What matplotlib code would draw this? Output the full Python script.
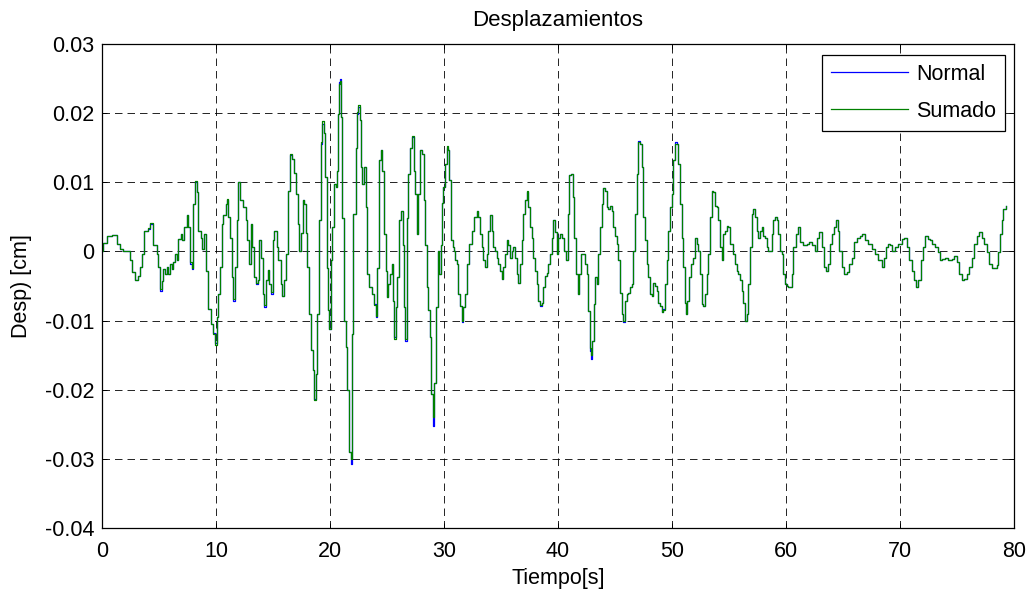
import matplotlib
matplotlib.use("Agg")
import matplotlib.pyplot as plt

plt.rcParams["font.family"] = ["Liberation Sans", "DejaVu Sans"]
plt.rcParams["axes.unicode_minus"] = False

# Time axis [s]
tiempo = [
    0.00, 0.10, 0.41, 0.85, 1.29, 1.58, 1.87, 2.31, 2.46, 2.60, 2.90, 3.19, 3.33, 3.48, 3.71,
    4.06, 4.21, 4.50, 4.80, 4.94, 5.09, 5.23, 5.38, 5.53, 5.67, 5.82, 5.96, 6.11, 6.26, 6.40,
    6.55, 6.70, 6.93, 7.05, 7.22, 7.43, 7.57, 7.72, 7.87, 8.01, 8.16, 8.30, 8.45, 8.68, 8.80,
    8.92, 9.09, 9.33, 9.56, 9.77, 9.91, 10.06, 10.20, 10.35, 10.50, 10.64, 10.88, 11.00, 11.08, 11.23,
    11.38, 11.52, 11.67, 11.81, 11.96, 12.11, 12.40, 12.60, 12.75, 12.90, 13.04, 13.19, 13.33, 13.51, 13.66,
    13.80, 13.95, 14.10, 14.24, 14.39, 14.53, 14.68, 14.82, 14.97, 15.12, 15.32, 15.47, 15.67, 15.82, 15.96,
    16.14, 16.32, 16.49, 16.64, 16.84, 17.02, 17.16, 17.31, 17.46, 17.60, 17.75, 17.90, 18.00, 18.16, 18.30,
    18.48, 18.62, 18.77, 18.89, 19.03, 19.18, 19.29, 19.47, 19.59, 19.71, 19.86, 19.94, 20.09, 20.20, 20.38,
    20.50, 20.58, 20.67, 20.82, 20.90, 20.97, 21.08, 21.23, 21.37, 21.52, 21.67, 21.81, 21.90, 22.05, 22.25,
    22.40, 22.49, 22.63, 22.72, 22.84, 23.00, 23.16, 23.27, 23.42, 23.65, 23.89, 24.00, 24.15, 24.30, 24.45,
    24.59, 24.77, 24.88, 25.00, 25.12, 25.29, 25.41, 25.53, 25.64, 25.76, 25.88, 26.05, 26.23, 26.37, 26.52,
    26.60, 26.72, 26.87, 27.04, 27.19, 27.34, 27.46, 27.60, 27.75, 27.90, 28.04, 28.22, 28.33, 28.48, 28.63,
    28.77, 28.89, 29.01, 29.15, 29.30, 29.44, 29.59, 29.74, 29.85, 29.94, 30.09, 30.23, 30.38, 30.47, 30.58,
    30.76, 30.88, 31.00, 31.11, 31.26, 31.40, 31.58, 31.70, 31.84, 31.99, 32.19, 32.34, 32.49, 32.66, 32.87,
    33.01, 33.16, 33.30, 33.45, 33.60, 33.74, 33.89, 34.04, 34.18, 34.33, 34.47, 34.62, 34.77, 34.91, 35.06,
    35.20, 35.35, 35.50, 35.64, 35.79, 35.94, 36.08, 36.23, 36.37, 36.52, 36.67, 36.81, 36.96, 37.11, 37.25,
    37.40, 37.54, 37.69, 37.84, 37.98, 38.13, 38.27, 38.42, 38.57, 38.71, 38.86, 39.00, 39.15, 39.30, 39.44,
    39.59, 39.74, 39.88, 40.03, 40.17, 40.38, 40.56, 40.70, 40.85, 40.96, 41.14, 41.29, 41.43, 41.58, 41.72,
    41.87, 42.02, 42.22, 42.37, 42.51, 42.66, 42.78, 42.90, 43.01, 43.13, 43.25, 43.39, 43.54, 43.68, 43.83,
    43.98, 44.12, 44.27, 44.42, 44.56, 44.71, 44.85, 45.00, 45.15, 45.29, 45.44, 45.58, 45.73, 45.88, 46.02,
    46.17, 46.32, 46.46, 46.61, 46.75, 46.90, 47.05, 47.19, 47.34, 47.49, 47.63, 47.78, 47.92, 48.07, 48.22,
    48.36, 48.51, 48.65, 48.80, 48.95, 49.09, 49.24, 49.39, 49.53, 49.68, 49.82, 49.97, 50.12, 50.26, 50.41,
    50.56, 50.70, 50.85, 51.00, 51.14, 51.23, 51.35, 51.49, 51.67, 51.87, 52.02, 52.17, 52.31, 52.46, 52.60,
    52.75, 52.90, 53.04, 53.19, 53.33, 53.48, 53.63, 53.77, 53.92, 54.06, 54.21, 54.36, 54.50, 54.65, 54.80,
    54.94, 55.09, 55.23, 55.38, 55.53, 55.67, 55.82, 55.96, 56.11, 56.26, 56.40, 56.55, 56.70, 56.84, 56.99,
    57.13, 57.28, 57.43, 57.57, 57.72, 57.87, 58.01, 58.16, 58.30, 58.45, 58.60, 58.74, 58.89, 59.04, 59.18,
    59.33, 59.47, 59.62, 59.77, 59.91, 60.06, 60.20, 60.50, 60.64, 60.85, 61.02, 61.23, 61.52, 61.81, 62.01,
    62.25, 62.54, 62.75, 62.92, 63.12, 63.36, 63.48, 63.65, 63.86, 64.00, 64.21, 64.39, 64.53, 64.68, 64.88,
    65.12, 65.32, 65.53, 65.76, 65.97, 66.20, 66.49, 66.70, 66.93, 67.22, 67.52, 67.81, 68.10, 68.39, 68.60,
    68.77, 68.92, 69.12, 69.33, 69.56, 69.85, 70.15, 70.38, 70.59, 70.79, 71.02, 71.23, 71.40, 71.61, 71.81,
    71.99, 72.19, 72.43, 72.63, 72.84, 73.07, 73.30, 73.51, 73.71, 73.95, 74.24, 74.53, 74.77, 74.97, 75.18,
    75.41, 75.64, 75.85, 76.05, 76.29, 76.52, 76.73, 76.93, 77.16, 77.40, 77.60, 77.81, 78.04, 78.27, 78.48,
    78.63, 78.77, 78.92, 79.06, 79.30,
]

# Displacement, original record [cm]
desp_normal = [
    0.0000, 0.0012, 0.0023, 0.0024, 0.0011, 0.0003, 0.0000, 0.0000, -0.0013, -0.0030, -0.0042, -0.0036, -0.0023, -0.0004, 0.0030,
    0.0033, 0.0040, 0.0009, -0.0004, -0.0023, -0.0057, -0.0043, -0.0026, -0.0033, -0.0023, -0.0033, -0.0018, -0.0026, -0.0016, -0.0004,
    -0.0013, 0.0018, 0.0025, 0.0016, 0.0035, 0.0052, 0.0035, -0.0018, -0.0025, 0.0069, 0.0101, 0.0086, 0.0030, 0.0020, 0.0003,
    0.0025, -0.0028, -0.0083, -0.0105, -0.0118, -0.0132, -0.0095, -0.0061, -0.0023, 0.0040, 0.0052, 0.0069, 0.0074, 0.0050, 0.0020,
    -0.0037, -0.0071, -0.0023, 0.0045, 0.0100, 0.0074, 0.0064, 0.0045, 0.0016, -0.0018, 0.0040, 0.0006, -0.0037, -0.0047, -0.0042,
    0.0016, -0.0009, -0.0061, -0.0080, -0.0042, -0.0027, -0.0047, -0.0061, 0.0016, 0.0030, 0.0006, -0.0013, -0.0047, -0.0064, -0.0042,
    -0.0004, 0.0088, 0.0139, 0.0134, 0.0113, 0.0083, 0.0040, 0.0001, 0.0026, 0.0074, 0.0069, 0.0026, -0.0023, -0.0090, -0.0143,
    -0.0172, -0.0213, -0.0177, -0.0090, 0.0045, 0.0156, 0.0185, 0.0171, 0.0108, -0.0024, -0.0085, -0.0112, -0.0013, 0.0035, 0.0098,
    0.0093, 0.0117, 0.0199, 0.0245, 0.0250, 0.0195, 0.0049, -0.0100, -0.0138, -0.0200, -0.0290, -0.0308, -0.0120, 0.0054, 0.0150,
    0.0199, 0.0209, 0.0190, 0.0122, 0.0098, 0.0122, 0.0064, -0.0033, -0.0052, -0.0061, -0.0076, -0.0095, -0.0024, 0.0132, 0.0146,
    0.0117, 0.0025, -0.0028, -0.0066, -0.0047, -0.0033, -0.0018, -0.0071, -0.0124, -0.0081, -0.0037, 0.0045, 0.0059, 0.0010, -0.0081,
    -0.0129, 0.0049, 0.0112, 0.0150, 0.0165, 0.0117, 0.0083, 0.0025, 0.0083, 0.0146, 0.0141, 0.0074, 0.0010, -0.0052, -0.0085,
    -0.0124, -0.0206, -0.0252, -0.0191, -0.0081, 0.0001, -0.0033, 0.0010, 0.0070, 0.0093, 0.0127, 0.0150, 0.0146, 0.0103, 0.0016,
    0.0006, 0.0001, -0.0013, -0.0018, -0.0062, -0.0079, -0.0102, -0.0081, -0.0062, -0.0018, 0.0011, 0.0011, 0.0030, 0.0050, 0.0059,
    0.0050, 0.0025, 0.0006, -0.0013, -0.0023, -0.0004, 0.0030, 0.0052, 0.0030, 0.0006, 0.0001, -0.0009, -0.0018, -0.0028, -0.0040,
    -0.0023, -0.0004, 0.0016, 0.0009, -0.0009, 0.0001, 0.0006, -0.0009, -0.0032, -0.0045, -0.0018, 0.0016, 0.0054, 0.0074, 0.0086,
    0.0064, 0.0035, 0.0020, -0.0009, -0.0028, -0.0047, -0.0071, -0.0079, -0.0074, -0.0052, -0.0035, -0.0031, -0.0018, -0.0004, 0.0020,
    0.0045, 0.0028, -0.0004, 0.0020, 0.0025, 0.0020, 0.0001, -0.0013, 0.0054, 0.0110, 0.0112, 0.0079, 0.0020, -0.0032, -0.0062,
    -0.0032, -0.0004, -0.0004, -0.0018, -0.0032, -0.0086, -0.0144, -0.0155, -0.0129, -0.0076, -0.0037, -0.0047, -0.0004, 0.0035, 0.0069,
    0.0091, 0.0088, 0.0064, 0.0062, 0.0066, 0.0059, 0.0035, 0.0023, 0.0011, -0.0013, -0.0060, -0.0091, -0.0102, -0.0071, -0.0062,
    -0.0060, -0.0052, -0.0047, 0.0001, 0.0054, 0.0112, 0.0160, 0.0155, 0.0122, 0.0050, 0.0016, -0.0018, -0.0037, -0.0062, -0.0064,
    -0.0045, -0.0050, -0.0057, -0.0074, -0.0079, -0.0088, -0.0083, -0.0047, -0.0013, 0.0030, 0.0064, 0.0083, 0.0132, 0.0158, 0.0155,
    0.0127, 0.0069, 0.0020, -0.0023, -0.0074, -0.0091, -0.0071, -0.0037, -0.0018, -0.0009, 0.0020, 0.0011, 0.0001, -0.0032, -0.0076,
    -0.0079, -0.0062, -0.0032, -0.0004, 0.0050, 0.0088, 0.0086, 0.0066, 0.0064, 0.0045, 0.0006, -0.0013, 0.0025, 0.0030, 0.0037,
    0.0035, 0.0011, 0.0011, -0.0004, -0.0018, -0.0028, -0.0032, -0.0042, -0.0057, -0.0074, -0.0100, -0.0091, -0.0047, 0.0006, 0.0054,
    0.0062, 0.0050, 0.0030, 0.0020, 0.0030, 0.0035, 0.0023, 0.0020, 0.0006, 0.0001, 0.0001, 0.0025, 0.0045, 0.0050, 0.0045,
    0.0025, 0.0001, -0.0004, -0.0032, -0.0047, -0.0050, -0.0052, -0.0032, 0.0006, 0.0025, 0.0035, 0.0014, 0.0009, 0.0011, 0.0014,
    0.0009, 0.0001, 0.0020, 0.0028, 0.0006, -0.0023, -0.0028, -0.0018, 0.0011, 0.0025, 0.0035, 0.0045, 0.0030, 0.0001, -0.0023,
    -0.0032, -0.0030, -0.0018, -0.0009, 0.0014, 0.0020, 0.0023, 0.0025, 0.0016, 0.0011, 0.0004, -0.0004, -0.0013, -0.0022, -0.0009,
    0.0006, 0.0011, 0.0009, 0.0001, 0.0006, 0.0011, 0.0018, 0.0020, 0.0006, -0.0013, -0.0028, -0.0042, -0.0052, -0.0042, -0.0013,
    0.0006, 0.0023, 0.0018, 0.0016, 0.0011, 0.0006, -0.0001, -0.0013, -0.0011, -0.0009, -0.0013, -0.0011, -0.0006, -0.0016, -0.0032,
    -0.0042, -0.0040, -0.0032, -0.0023, -0.0009, 0.0011, 0.0023, 0.0028, 0.0020, 0.0011, -0.0001, -0.0018, -0.0024, -0.0024, -0.0020,
    -0.0001, 0.0025, 0.0045, 0.0062, 0.0066,
]

# Displacement, summed record [cm]
desp_sumado = [
    0.0000, 0.0012, 0.0023, 0.0024, 0.0011, 0.0003, 0.0000, 0.0000, -0.0013, -0.0030, -0.0041, -0.0036, -0.0023, -0.0004, 0.0030,
    0.0034, 0.0041, 0.0009, -0.0004, -0.0023, -0.0055, -0.0043, -0.0026, -0.0033, -0.0023, -0.0033, -0.0018, -0.0026, -0.0016, -0.0004,
    -0.0013, 0.0018, 0.0025, 0.0016, 0.0035, 0.0052, 0.0035, -0.0016, -0.0024, 0.0069, 0.0102, 0.0086, 0.0030, 0.0020, 0.0003,
    0.0025, -0.0028, -0.0083, -0.0105, -0.0120, -0.0135, -0.0095, -0.0061, -0.0023, 0.0040, 0.0052, 0.0069, 0.0076, 0.0050, 0.0020,
    -0.0037, -0.0069, -0.0023, 0.0045, 0.0100, 0.0074, 0.0064, 0.0045, 0.0016, -0.0018, 0.0040, 0.0006, -0.0037, -0.0045, -0.0042,
    0.0016, -0.0009, -0.0061, -0.0078, -0.0042, -0.0027, -0.0047, -0.0059, 0.0016, 0.0030, 0.0006, -0.0013, -0.0047, -0.0064, -0.0042,
    -0.0004, 0.0088, 0.0141, 0.0134, 0.0113, 0.0083, 0.0040, 0.0001, 0.0026, 0.0074, 0.0069, 0.0026, -0.0023, -0.0090, -0.0143,
    -0.0172, -0.0215, -0.0177, -0.0090, 0.0045, 0.0158, 0.0188, 0.0171, 0.0108, -0.0024, -0.0085, -0.0112, -0.0013, 0.0035, 0.0098,
    0.0093, 0.0117, 0.0199, 0.0242, 0.0247, 0.0195, 0.0049, -0.0100, -0.0138, -0.0200, -0.0290, -0.0300, -0.0120, 0.0054, 0.0150,
    0.0201, 0.0212, 0.0190, 0.0122, 0.0098, 0.0122, 0.0064, -0.0033, -0.0052, -0.0061, -0.0078, -0.0093, -0.0024, 0.0132, 0.0146,
    0.0117, 0.0025, -0.0028, -0.0066, -0.0047, -0.0033, -0.0018, -0.0071, -0.0126, -0.0081, -0.0037, 0.0045, 0.0059, 0.0010, -0.0081,
    -0.0127, 0.0049, 0.0112, 0.0150, 0.0167, 0.0117, 0.0083, 0.0025, 0.0083, 0.0146, 0.0141, 0.0074, 0.0010, -0.0052, -0.0085,
    -0.0124, -0.0206, -0.0240, -0.0191, -0.0081, 0.0001, -0.0033, 0.0010, 0.0070, 0.0093, 0.0127, 0.0152, 0.0146, 0.0103, 0.0016,
    0.0006, 0.0001, -0.0013, -0.0018, -0.0062, -0.0079, -0.0100, -0.0081, -0.0062, -0.0018, 0.0011, 0.0011, 0.0030, 0.0050, 0.0059,
    0.0050, 0.0025, 0.0006, -0.0013, -0.0023, -0.0004, 0.0030, 0.0052, 0.0030, 0.0006, 0.0001, -0.0009, -0.0018, -0.0028, -0.0040,
    -0.0023, -0.0004, 0.0016, 0.0009, -0.0009, 0.0001, 0.0006, -0.0009, -0.0032, -0.0045, -0.0018, 0.0016, 0.0054, 0.0074, 0.0087,
    0.0064, 0.0035, 0.0020, -0.0009, -0.0028, -0.0047, -0.0071, -0.0078, -0.0074, -0.0052, -0.0035, -0.0031, -0.0018, -0.0004, 0.0020,
    0.0045, 0.0028, -0.0004, 0.0020, 0.0025, 0.0020, 0.0001, -0.0013, 0.0054, 0.0110, 0.0112, 0.0079, 0.0020, -0.0032, -0.0062,
    -0.0032, -0.0004, -0.0004, -0.0018, -0.0032, -0.0086, -0.0140, -0.0150, -0.0129, -0.0076, -0.0037, -0.0047, -0.0004, 0.0035, 0.0069,
    0.0091, 0.0088, 0.0064, 0.0062, 0.0066, 0.0059, 0.0035, 0.0023, 0.0011, -0.0013, -0.0060, -0.0091, -0.0100, -0.0071, -0.0062,
    -0.0060, -0.0052, -0.0047, 0.0001, 0.0054, 0.0112, 0.0158, 0.0155, 0.0122, 0.0050, 0.0016, -0.0018, -0.0037, -0.0062, -0.0064,
    -0.0045, -0.0050, -0.0057, -0.0074, -0.0079, -0.0088, -0.0085, -0.0047, -0.0013, 0.0030, 0.0064, 0.0083, 0.0132, 0.0156, 0.0155,
    0.0127, 0.0069, 0.0020, -0.0023, -0.0074, -0.0091, -0.0071, -0.0037, -0.0018, -0.0009, 0.0020, 0.0011, 0.0001, -0.0032, -0.0076,
    -0.0079, -0.0062, -0.0032, -0.0004, 0.0050, 0.0088, 0.0086, 0.0066, 0.0064, 0.0045, 0.0006, -0.0013, 0.0025, 0.0030, 0.0037,
    0.0035, 0.0011, 0.0011, -0.0004, -0.0018, -0.0028, -0.0032, -0.0042, -0.0057, -0.0074, -0.0100, -0.0091, -0.0047, 0.0006, 0.0054,
    0.0062, 0.0050, 0.0030, 0.0020, 0.0030, 0.0035, 0.0023, 0.0020, 0.0006, 0.0001, 0.0001, 0.0025, 0.0045, 0.0050, 0.0045,
    0.0025, 0.0001, -0.0004, -0.0032, -0.0047, -0.0050, -0.0052, -0.0032, 0.0006, 0.0025, 0.0035, 0.0014, 0.0009, 0.0011, 0.0014,
    0.0009, 0.0001, 0.0020, 0.0028, 0.0006, -0.0023, -0.0028, -0.0018, 0.0011, 0.0025, 0.0035, 0.0045, 0.0030, 0.0001, -0.0023,
    -0.0032, -0.0030, -0.0018, -0.0009, 0.0014, 0.0020, 0.0023, 0.0025, 0.0016, 0.0011, 0.0004, -0.0004, -0.0013, -0.0022, -0.0009,
    0.0006, 0.0011, 0.0009, 0.0001, 0.0006, 0.0011, 0.0018, 0.0020, 0.0006, -0.0013, -0.0028, -0.0042, -0.0052, -0.0042, -0.0013,
    0.0006, 0.0023, 0.0018, 0.0016, 0.0011, 0.0006, -0.0001, -0.0013, -0.0011, -0.0009, -0.0013, -0.0011, -0.0006, -0.0016, -0.0032,
    -0.0042, -0.0040, -0.0032, -0.0023, -0.0009, 0.0011, 0.0023, 0.0028, 0.0020, 0.0011, -0.0001, -0.0018, -0.0024, -0.0024, -0.0020,
    -0.0001, 0.0025, 0.0045, 0.0062, 0.0066,
]

xticks = [0, 10, 20, 30, 40, 50, 60, 70, 80]
yticks = [-0.04, -0.03, -0.02, -0.01, 0, 0.01, 0.02, 0.03]
ytick_labels = ["-0.04", "-0.03", "-0.02", "-0.01", "0", "0.01", "0.02", "0.03"]

fig = plt.figure(figsize=(10.29, 5.92), dpi=100)
ax = fig.add_axes([0.0991, 0.1081, 0.8863, 0.8176])

ax.plot(tiempo, desp_normal, color="#0000ff", lw=0.9, drawstyle="steps-post", label="Normal")
ax.plot(tiempo, desp_sumado, color="#008000", lw=0.9, drawstyle="steps-post", label="Sumado")

ax.set_xlim(0, 80)
ax.set_ylim(-0.04, 0.03)
ax.set_xticks(xticks)
ax.set_yticks(yticks)
ax.set_yticklabels(ytick_labels)
ax.tick_params(direction="in", length=3.6, width=0.7, top=True, right=True,
               labelsize=15.5, colors="black")
ax.tick_params(axis="x", pad=9)
ax.tick_params(axis="y", pad=5.5)
ax.grid(True, color="black", lw=0.6, linestyle=(0, (9, 6)))
for sp in ax.spines.values():
    sp.set_linewidth(0.9)
    sp.set_color("black")

ax.set_title("Desplazamientos", fontsize=16, pad=13)
ax.set_xlabel("Tiempo[s]", fontsize=15.5, labelpad=5)
ax.set_ylabel("Desp) [cm]", fontsize=15.5, labelpad=9)

leg = ax.legend(loc="upper right", bbox_to_anchor=(0.9901, 0.9773), borderaxespad=0,
                fontsize=15.5, fancybox=False, framealpha=1, edgecolor="black",
                handlelength=3.6, handletextpad=0.35, labelspacing=0.72, borderpad=0.42)
leg.get_frame().set_linewidth(0.9)

fig.savefig("out.png", dpi=100)
